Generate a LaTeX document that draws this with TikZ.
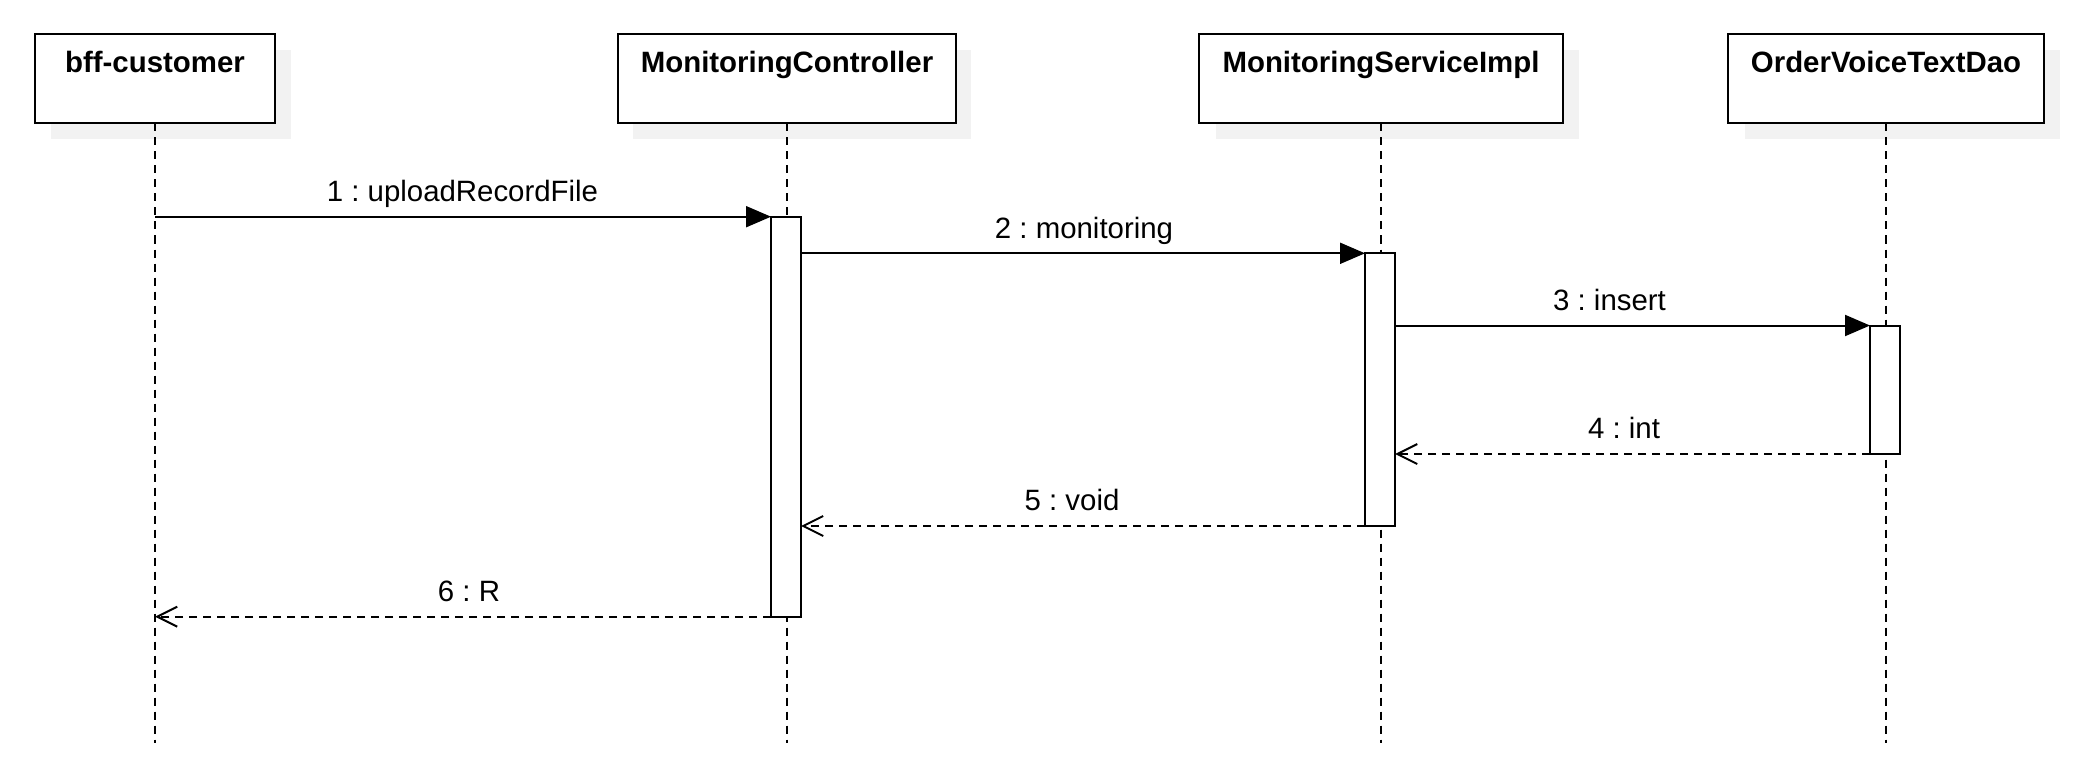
\documentclass[tikz,border=0pt]{standalone}
\usepackage{fontspec}
\setmainfont{Liberation Sans}
\usetikzlibrary{arrows.meta,calc}

\definecolor{shadowgray}{RGB}{242,242,242}
\frenchspacing

\begin{document}
% one unit = one pixel of a 2080 x 770 canvas, y growing downwards
\begin{tikzpicture}[x=0.5pt,y=-0.5pt,
  every node/.style={font=\fontsize{14.7}{17}\selectfont, inner sep=0pt, outer sep=0pt},
  header/.style={draw, line width=1pt, fill=white, minimum height=44.75pt},
  headtext/.style={anchor=base, font=\fontsize{14.7}{17}\selectfont\bfseries},
  lifeline/.style={line width=1pt, dash pattern=on 4pt off 3pt},
  actbar/.style={draw, line width=1pt, fill=white, anchor=north, minimum width=15pt},
  callmsg/.style={line width=1pt, -{Triangle[length=12.5pt,width=10.5pt]}},
  replymsg/.style={line width=1pt, dash pattern=on 4pt off 3pt,
    -{Straight Barb[length=10pt,width=10pt]}},
  msglabel/.style={anchor=base}]

\useasboundingbox (0,0) rectangle (2080,770);

% drop shadows of the participant boxes
\fill[shadowgray] (50.5,50) rectangle (291,139.5);
\fill[shadowgray] (632.5,50) rectangle (970.5,139.5);
\fill[shadowgray] (1215.5,50) rectangle (1579,139.5);
\fill[shadowgray] (1744.5,50) rectangle (2060,139.5);

% participants
\node[header, minimum width=120.25pt, anchor=north] (b1) at (155,34) {};
\node[header, minimum width=169pt,    anchor=north] (b2) at (787,34) {};
\node[header, minimum width=181.85pt, anchor=north] (b3) at (1381,34) {};
\node[header, minimum width=157.85pt, anchor=north] (b4) at (1886,34) {};

\node[headtext] (t1) at ($(b1.north)+(0,39)$) {bff-customer};
\node[headtext] (t2) at ($(b2.north)+(0,39)$) {MonitoringController};
\node[headtext] (t3) at ($(b3.north)+(0,39)$) {MonitoringServiceImpl};
\node[headtext] (t4) at ($(b4.north)+(0,39)$) {OrderVoiceTextDao};

% lifelines
\coordinate (e1) at (155,743);
\coordinate (e2) at (787,743);
\coordinate (e3) at (1381,743);
\coordinate (e4) at (1886,743);
\draw[lifeline] (b1.south) -- (e1);
\draw[lifeline] (b2.south) -- (e2);
\draw[lifeline] (b3.south) -- (e3);
\draw[lifeline] (b4.south) -- (e4);

% activation bars
\node[actbar, minimum height=200pt]    (a2) at (786,216.7) {};
\node[actbar, minimum height=136.35pt] (a3) at (1380,253.3) {};
\node[actbar, minimum height=64.25pt]  (a4) at (1885,325.5) {};

% calls
\coordinate (s1) at (155,216.7);
\draw[callmsg] (s1) -- (a2.north west);
\draw[callmsg] (a2.east |- a3.north) -- (a3.north west);
\draw[callmsg] (a3.east |- a4.north) -- (a4.north west);

% replies
\coordinate (r6) at (155,616.7);
\draw[replymsg] (a4.south west) -- (a3.east |- a4.south);
\draw[replymsg] (a3.south west) -- (a2.east |- a3.south);
\draw[replymsg] (a2.south west) -- (r6);

% message labels
\node[msglabel] (l1) at (462.5,201.7) {1 : uploadRecordFile};
\node[msglabel] (l2) at (1084,238.3) {2 : monitoring};
\node[msglabel] (l3) at (1609.5,310.5) {3 : insert};
\node[msglabel] (l4) at (1624,438.5) {4 : int};
\node[msglabel] (l5) at (1072,510.5) {5 : void};
\node[msglabel] (l6) at (469,601.7) {6 : R};

\end{tikzpicture}
\end{document}
